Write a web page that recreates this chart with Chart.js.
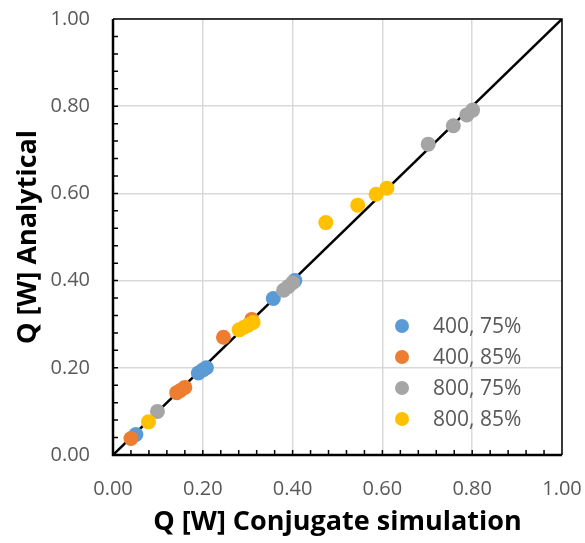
<!DOCTYPE html>
<html>
<head>
<meta charset="utf-8">
<script src="https://cdn.jsdelivr.net/npm/chart.js@4.4.1/dist/chart.umd.min.js"></script>
<style>
  html, body { margin: 0; padding: 0; background: #fff; }
  #wrap { width: 585px; height: 543px; }
</style>
</head>
<body>
<div id="wrap"><canvas id="c"></canvas></div>
<script>
// series: Q from conjugate simulation (x) vs analytical (y)
const seriesNames = ['400, 75%', '400, 85%', '800, 75%', '800, 85%'];
const seriesColors = ['#5B9BD5', '#ED7D31', '#A5A5A5', '#FFC000'];

const s400_75_x = [0.051, 0.19, 0.20, 0.208, 0.357, 0.405];
const s400_75_y = [0.047, 0.188, 0.195, 0.20, 0.359, 0.40];

const s400_85_x = [0.040, 0.142, 0.150, 0.160, 0.246, 0.309];
const s400_85_y = [0.038, 0.143, 0.148, 0.155, 0.270, 0.311];

const s800_75_x = [0.099, 0.380, 0.390, 0.400, 0.702, 0.758, 0.788, 0.801];
const s800_75_y = [0.100, 0.378, 0.386, 0.395, 0.713, 0.755, 0.780, 0.791];

const s800_85_x = [0.079, 0.281, 0.292, 0.301, 0.312, 0.474, 0.545, 0.586, 0.610];
const s800_85_y = [0.076, 0.287, 0.293, 0.298, 0.304, 0.533, 0.573, 0.598, 0.612];

const tickValues = [0, 0.2, 0.4, 0.6, 0.8, 1.0];

function pts(xs, ys) {
  return xs.map((x, i) => ({ x: x, y: ys[i] }));
}

const allX = [s400_75_x, s400_85_x, s800_75_x, s800_85_x];
const allY = [s400_75_y, s400_85_y, s800_75_y, s800_85_y];

const datasets = seriesNames.map((name, i) => ({
  type: 'scatter',
  label: name,
  data: pts(allX[i], allY[i]),
  backgroundColor: seriesColors[i],
  borderWidth: 0,
  pointRadius: 7.5,
  pointHoverRadius: 7.5,
  order: 4 - i
}));

// 1:1 line
datasets.push({
  type: 'line',
  label: 'diag',
  data: [{ x: 0, y: 0 }, { x: 1, y: 1 }],
  borderColor: '#000',
  borderWidth: 2.5,
  pointRadius: 0,
  order: 10
});

const FONT = 'Open Sans';

// frame, inner minor ticks and in-plot legend
const framePlugin = {
  id: 'frame',
  afterDatasetsDraw(chart) {
    const ctx = chart.ctx;
    const a = chart.chartArea;
    const xs = chart.scales.x, ys = chart.scales.y;
    ctx.save();
    ctx.strokeStyle = '#000';
    // top + right thin
    ctx.lineWidth = 1.5;
    ctx.beginPath();
    ctx.moveTo(a.left, a.top); ctx.lineTo(a.right, a.top); ctx.lineTo(a.right, a.bottom);
    ctx.stroke();
    // minor ticks
    ctx.lineWidth = 1.5;
    ctx.beginPath();
    for (let k = 1; k < 25; k++) {
      const v = k * 0.04;
      const px = xs.getPixelForValue(v);
      ctx.moveTo(px, a.bottom); ctx.lineTo(px, a.bottom - 5);
      const py = ys.getPixelForValue(v);
      ctx.moveTo(a.left, py); ctx.lineTo(a.left + 5, py);
    }
    ctx.stroke();
    // left + bottom thick
    ctx.lineWidth = 2.5;
    ctx.beginPath();
    ctx.moveTo(a.left, a.top); ctx.lineTo(a.left, a.bottom); ctx.lineTo(a.right, a.bottom);
    ctx.stroke();

    // legend
    const lx = a.right - 160;
    const ly = a.bottom - 129;
    ctx.font = '21px "' + FONT + '"';
    ctx.textBaseline = 'middle';
    seriesNames.forEach((name, i) => {
      const y = ly + i * 31;
      ctx.beginPath();
      ctx.fillStyle = seriesColors[i];
      ctx.arc(lx, y, 7, 0, Math.PI * 2);
      ctx.fill();
      ctx.fillStyle = '#595959';
      ctx.fillText(name, lx + 31, y + 1);
    });
    ctx.restore();
  }
};

function axis(titleText, isX) {
  return {
    type: 'linear',
    min: 0,
    max: 1,
    afterBuildTicks: s => { s.ticks = tickValues.map(v => ({ value: v })); },
    afterFit: s => {
      if (isX) { s.height = 88; s.paddingLeft = 0; s.paddingRight = 0; }
      else { s.width = 113; s.paddingTop = 0; s.paddingBottom = 0; }
    },
    ticks: {
      callback: v => v.toFixed(2),
      font: { family: FONT, size: 20 },
      color: '#595959',
      padding: isX ? 22 : 23
    },
    grid: { color: '#D9D9D9', lineWidth: 1.5, drawTicks: false },
    border: { display: false },
    title: {
      display: true,
      text: titleText,
      color: '#000',
      font: { family: FONT, size: 27, weight: 'bold' },
      padding: isX ? { top: 0, bottom: 4 } : { top: 12, bottom: 0 }
    }
  };
}

new Chart(document.getElementById('c'), {
  type: 'scatter',
  data: { datasets: datasets },
  plugins: [framePlugin],
  options: {
    responsive: true,
    maintainAspectRatio: false,
    animation: false,
    layout: { padding: { top: 19, right: 23, left: 0, bottom: 0 } },
    plugins: {
      legend: { display: false },
      tooltip: { enabled: false }
    },
    scales: {
      x: axis('Q [W] Conjugate simulation', true),
      y: axis('Q [W] Analytical', false)
    }
  }
});
</script>
</body>
</html>
